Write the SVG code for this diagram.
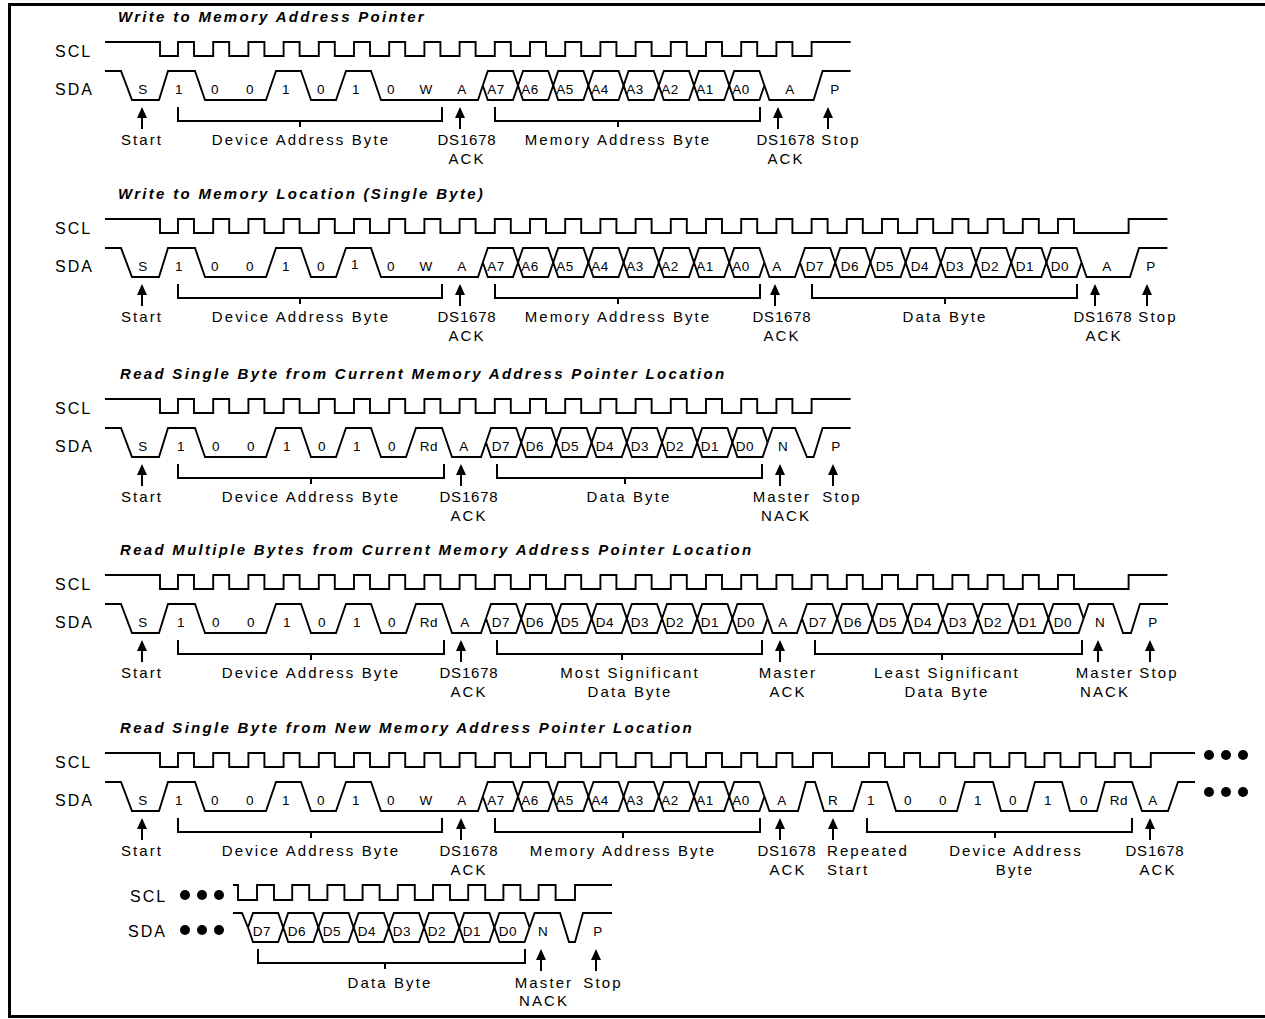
<svg xmlns="http://www.w3.org/2000/svg" xmlns:xlink="http://www.w3.org/1999/xlink" width="1265" height="1019" viewBox="0 0 1265 1019">
<style>
.sig{fill:none;stroke:#000;stroke-width:1.9;stroke-linejoin:miter}
.br{fill:none;stroke:#000;stroke-width:2}
text{font-family:"Liberation Sans",Arial,Helvetica,sans-serif;fill:#000}
.ttl{font-size:15px;font-weight:bold;font-style:italic;letter-spacing:2.3px}
.lbl{font-size:16px;letter-spacing:2px}
.bit{font-size:13.5px;letter-spacing:0.5px;text-anchor:middle}
.cap{font-size:15px;letter-spacing:2.1px;text-anchor:middle}
.capl{font-size:15px;letter-spacing:2.1px}
.ds{font-size:15px;letter-spacing:0.8px;text-anchor:middle}
</style>
<defs>
<g id="hex8">
<path class="sig" d="M0,85.5 l5,-14.5 h25.2 l5,14.5 l5,-14.5 h25.2 l5,14.5 l5,-14.5 h25.2 l5,14.5 l5,-14.5 h25.2 l5,14.5 l5,-14.5 h25.2 l5,14.5 l5,-14.5 h25.2 l5,14.5 l5,-14.5 h25.2 l5,14.5 l5,-14.5 h25.2 l5,14.5"/>
<path class="sig" d="M0,85.5 l5,14.5 h25.2 l5,-14.5 l5,14.5 h25.2 l5,-14.5 l5,14.5 h25.2 l5,-14.5 l5,14.5 h25.2 l5,-14.5 l5,14.5 h25.2 l5,-14.5 l5,14.5 h25.2 l5,-14.5 l5,14.5 h25.2 l5,-14.5 l5,14.5 h25.2 l5,-14.5"/>
</g>
<g id="arr">
<polygon points="0,107 -5,118 5,118" fill="#000"/>
<line x1="0" y1="116" x2="0" y2="129" stroke="#000" stroke-width="2"/>
</g>
</defs>
<rect width="1265" height="1019" fill="#fff"/>
<path d="M1268,4.5 H9.5 V1016.5 H1268" fill="none" stroke="#000" stroke-width="3"/>

<!-- Section 1 -->
<g id="sec1">
<text class="ttl" x="118" y="22">Write to Memory Address Pointer</text>
<text class="lbl" x="55" y="57">SCL</text>
<text class="lbl" x="55" y="95">SDA</text>
<g id="sec1-signals">
<path class="sig" d="M105,42 H160 V56 H178 v-14 h16 v14 h19.2 v-14 h16 v14 h19.2 v-14 h16 v14 h19.2 v-14 h16 v14 h19.2 v-14 h16 v14 h19.2 v-14 h16 v14 h19.2 v-14 h16 v14 h19.2 v-14 h16 v14 h19.2 v-14 h16 v14 h19.2 v-14 h16 v14 h19.2 v-14 h16 v14 h19.2 v-14 h16 v14 h19.2 v-14 h16 v14 h19.2 v-14 h16 v14 h19.2 v-14 h16 v14 h19.2 v-14 h16 v14 h19.2 v-14 h16 v14 h19.2 v-14 h16 v14 H811.6 V42 H850.6"/>
<path class="sig" d="M105,71 H121 L132,100 H159 L168,71 H195 L205,100 H266 L276,71 H301 L311,100 H336 L346,71 H371 L381,100 H478 L482.8,85.5"/>
<use href="#hex8" x="482.8"/>
<path class="sig" d="M764.4,85.5 L769.4,100 H813.6 L822.6,71 H850.6"/>
</g>
<g id="sec1-bits">
<text class="bit" x="143" y="94">S</text><text class="bit" x="179" y="94">1</text><text class="bit" x="215" y="94">0</text><text class="bit" x="250" y="94">0</text><text class="bit" x="286" y="94">1</text><text class="bit" x="321" y="94">0</text><text class="bit" x="356" y="94">1</text><text class="bit" x="391" y="94">0</text><text class="bit" x="426" y="94">W</text><text class="bit" x="462" y="94">A</text>
<text class="bit" x="496" y="94">A7</text><text class="bit" x="530" y="94">A6</text><text class="bit" x="565" y="94">A5</text><text class="bit" x="600" y="94">A4</text><text class="bit" x="635" y="94">A3</text><text class="bit" x="670" y="94">A2</text><text class="bit" x="705" y="94">A1</text><text class="bit" x="741" y="94">A0</text>
<text class="bit" x="790" y="94">A</text><text class="bit" x="835" y="94">P</text>
</g>
<g id="sec1-connectors">
<use href="#arr" x="142"/><use href="#arr" x="460"/><use href="#arr" x="778"/><use href="#arr" x="828"/>
<path class="br" d="M178,107 V121 H442 V107 M300,121 V127 M495,107 V121 H760 V107 M618,121 V127"/>
</g>
<text class="cap" x="142" y="145">Start</text>
<text class="cap" x="301" y="145">Device Address Byte</text>
<text class="ds" x="467" y="145">DS1678</text><text class="cap" x="467" y="164">ACK</text>
<text class="cap" x="618" y="145">Memory Address Byte</text>
<text class="ds" x="786" y="145">DS1678</text><text class="cap" x="786" y="164">ACK</text>
<text class="cap" x="841" y="145">Stop</text>
</g>

<!-- Section 2 -->
<g id="sec2" transform="translate(0,177)">
<text class="ttl" x="118" y="22">Write to Memory Location (Single Byte)</text>
<text class="lbl" x="55" y="57">SCL</text>
<text class="lbl" x="55" y="95">SDA</text>
<g id="sec2-signals">
<path class="sig" d="M105,42 H160 V56 H178 v-14 h16 v14 h19.2 v-14 h16 v14 h19.2 v-14 h16 v14 h19.2 v-14 h16 v14 h19.2 v-14 h16 v14 h19.2 v-14 h16 v14 h19.2 v-14 h16 v14 h19.2 v-14 h16 v14 h19.2 v-14 h16 v14 h19.2 v-14 h16 v14 h19.2 v-14 h16 v14 h19.2 v-14 h16 v14 h19.2 v-14 h16 v14 h19.2 v-14 h16 v14 h19.2 v-14 h16 v14 h19.2 v-14 h16 v14 h19.2 v-14 h16 v14 h19.2 v-14 h16 v14 h19.2 v-14 h16 v14 h19.2 v-14 h16 v14 h19.2 v-14 h16 v14 h19.2 v-14 h16 v14 h19.2 v-14 h16 v14 h19.2 v-14 h16 v14 h19.2 v-14 h16 v14 h19.2 v-14 h16 v14 H1128.6 V42 H1167.4"/>
<path class="sig" d="M105,71 H121 L132,100 H159 L168,71 H195 L205,100 H266 L276,71 H301 L311,100 H336 L346,71 H371 L381,100 H478 L482.8,85.5"/>
<use href="#hex8" x="482.8"/>
<path class="sig" d="M764.4,85.5 L769.4,100 H795 L800,85.5"/>
<use href="#hex8" x="800"/>
<path class="sig" d="M1081.6,85.5 L1086.6,100 H1130 L1139,71 H1167.4"/>
</g>
<g id="sec2-bits">
<text class="bit" x="143" y="94">S</text><text class="bit" x="179" y="94">1</text><text class="bit" x="215" y="94">0</text><text class="bit" x="250" y="94">0</text><text class="bit" x="286" y="94">1</text><text class="bit" x="321" y="94">0</text><text class="bit" x="355" y="92">1</text><text class="bit" x="391" y="94">0</text><text class="bit" x="426" y="94">W</text><text class="bit" x="462" y="94">A</text>
<text class="bit" x="496" y="94">A7</text><text class="bit" x="530" y="94">A6</text><text class="bit" x="565" y="94">A5</text><text class="bit" x="600" y="94">A4</text><text class="bit" x="635" y="94">A3</text><text class="bit" x="670" y="94">A2</text><text class="bit" x="705" y="94">A1</text><text class="bit" x="741" y="94">A0</text>
<text class="bit" x="777" y="94">A</text>
<text class="bit" x="815" y="94">D7</text><text class="bit" x="850" y="94">D6</text><text class="bit" x="885" y="94">D5</text><text class="bit" x="920" y="94">D4</text><text class="bit" x="955" y="94">D3</text><text class="bit" x="990" y="94">D2</text><text class="bit" x="1025" y="94">D1</text><text class="bit" x="1060" y="94">D0</text>
<text class="bit" x="1107" y="94">A</text><text class="bit" x="1151" y="94">P</text>
</g>
<g id="sec2-connectors">
<use href="#arr" x="142"/><use href="#arr" x="460"/><use href="#arr" x="775"/><use href="#arr" x="1095"/><use href="#arr" x="1147"/>
<path class="br" d="M178,107 V121 H442 V107 M300,121 V127 M495,107 V121 H760 V107 M618,121 V127 M812,107 V121 H1077 V107 M945,121 V127"/>
</g>
<text class="cap" x="142" y="145">Start</text>
<text class="cap" x="301" y="145">Device Address Byte</text>
<text class="ds" x="467" y="145">DS1678</text><text class="cap" x="467" y="164">ACK</text>
<text class="cap" x="618" y="145">Memory Address Byte</text>
<text class="ds" x="782" y="145">DS1678</text><text class="cap" x="782" y="164">ACK</text>
<text class="cap" x="945" y="145">Data Byte</text>
<text class="ds" x="1103" y="145">DS1678</text><text class="cap" x="1104" y="164">ACK</text>
<text class="cap" x="1158" y="145">Stop</text>
</g>

<!-- Section 3 -->
<g id="sec3" transform="translate(0,357)">
<text class="ttl" x="120" y="22">Read Single Byte from Current Memory Address Pointer Location</text>
<text class="lbl" x="55" y="57">SCL</text>
<text class="lbl" x="55" y="95">SDA</text>
<g id="sec3-signals">
<path class="sig" d="M105,42 H160 V56 H178 v-14 h16 v14 h19.2 v-14 h16 v14 h19.2 v-14 h16 v14 h19.2 v-14 h16 v14 h19.2 v-14 h16 v14 h19.2 v-14 h16 v14 h19.2 v-14 h16 v14 h19.2 v-14 h16 v14 h19.2 v-14 h16 v14 h19.2 v-14 h16 v14 h19.2 v-14 h16 v14 h19.2 v-14 h16 v14 h19.2 v-14 h16 v14 h19.2 v-14 h16 v14 h19.2 v-14 h16 v14 h19.2 v-14 h16 v14 h19.2 v-14 h16 v14 h19.2 v-14 h16 v14 H811.6 V42 H850.6"/>
<path class="sig" d="M105,71 H121 L132,100 H159 L168,71 H195 L205,100 H266 L276,71 H301 L311,100 H336 L346,71 H371 L381,100 H406 L416,71 H442 L452,100 H481 L486,85.5"/>
<use href="#hex8" x="486"/>
<path class="sig" d="M767.6,85.5 L772.6,71 H795 L807,100 H813.6 L822.6,71 H850.6"/>
</g>
<g id="sec3-bits">
<text class="bit" x="143" y="94">S</text><text class="bit" x="181" y="94">1</text><text class="bit" x="216" y="94">0</text><text class="bit" x="251" y="94">0</text><text class="bit" x="287" y="94">1</text><text class="bit" x="322" y="94">0</text><text class="bit" x="357" y="94">1</text><text class="bit" x="392" y="94">0</text><text class="bit" x="429" y="94">Rd</text><text class="bit" x="464" y="94">A</text>
<text class="bit" x="501" y="94">D7</text><text class="bit" x="535" y="94">D6</text><text class="bit" x="570" y="94">D5</text><text class="bit" x="605" y="94">D4</text><text class="bit" x="640" y="94">D3</text><text class="bit" x="675" y="94">D2</text><text class="bit" x="710" y="94">D1</text><text class="bit" x="745" y="94">D0</text>
<text class="bit" x="783" y="94">N</text><text class="bit" x="836" y="94">P</text>
</g>
<g id="sec3-connectors">
<use href="#arr" x="142"/><use href="#arr" x="461"/><use href="#arr" x="780"/><use href="#arr" x="833"/>
<path class="br" d="M178,107 V121 H444 V107 M311,121 V127 M497,107 V121 H762 V107 M625,121 V127"/>
</g>
<text class="cap" x="142" y="145">Start</text>
<text class="cap" x="311" y="145">Device Address Byte</text>
<text class="ds" x="469" y="145">DS1678</text><text class="cap" x="469" y="164">ACK</text>
<text class="cap" x="629" y="145">Data Byte</text>
<text class="cap" x="782" y="145">Master</text><text class="cap" x="786" y="164">NACK</text>
<text class="cap" x="842" y="145">Stop</text>
</g>

<!-- Section 4 -->
<g id="sec4" transform="translate(0,533)">
<text class="ttl" x="120" y="22">Read Multiple Bytes from Current Memory Address Pointer Location</text>
<text class="lbl" x="55" y="57">SCL</text>
<text class="lbl" x="55" y="95">SDA</text>
<g id="sec4-signals">
<path class="sig" d="M105,42 H160 V56 H178 v-14 h16 v14 h19.2 v-14 h16 v14 h19.2 v-14 h16 v14 h19.2 v-14 h16 v14 h19.2 v-14 h16 v14 h19.2 v-14 h16 v14 h19.2 v-14 h16 v14 h19.2 v-14 h16 v14 h19.2 v-14 h16 v14 h19.2 v-14 h16 v14 h19.2 v-14 h16 v14 h19.2 v-14 h16 v14 h19.2 v-14 h16 v14 h19.2 v-14 h16 v14 h19.2 v-14 h16 v14 h19.2 v-14 h16 v14 h19.2 v-14 h16 v14 h19.2 v-14 h16 v14 h19.2 v-14 h16 v14 h19.2 v-14 h16 v14 h19.2 v-14 h16 v14 h19.2 v-14 h16 v14 h19.2 v-14 h16 v14 h19.2 v-14 h16 v14 h19.2 v-14 h16 v14 h19.2 v-14 h16 v14 H1128.6 V42 H1167.4"/>
<path class="sig" d="M105,71 H121 L132,100 H159 L168,71 H195 L205,100 H266 L276,71 H301 L311,100 H336 L346,71 H371 L381,100 H406 L416,71 H442 L452,100 H481 L486,85.5"/>
<use href="#hex8" x="486"/>
<path class="sig" d="M767.6,85.5 L772.6,100 H797 L802,85.5"/>
<use href="#hex8" x="802"/>
<path class="sig" d="M1083.6,85.5 L1088.6,71 H1113 L1123,100 H1131 L1140,71 H1168"/>
</g>
<g id="sec4-bits">
<text class="bit" x="143" y="94">S</text><text class="bit" x="181" y="94">1</text><text class="bit" x="216" y="94">0</text><text class="bit" x="251" y="94">0</text><text class="bit" x="287" y="94">1</text><text class="bit" x="322" y="94">0</text><text class="bit" x="357" y="94">1</text><text class="bit" x="392" y="94">0</text><text class="bit" x="429" y="94">Rd</text><text class="bit" x="465" y="94">A</text>
<text class="bit" x="501" y="94">D7</text><text class="bit" x="535" y="94">D6</text><text class="bit" x="570" y="94">D5</text><text class="bit" x="605" y="94">D4</text><text class="bit" x="640" y="94">D3</text><text class="bit" x="675" y="94">D2</text><text class="bit" x="710" y="94">D1</text><text class="bit" x="746" y="94">D0</text>
<text class="bit" x="783" y="94">A</text>
<text class="bit" x="818" y="94">D7</text><text class="bit" x="853" y="94">D6</text><text class="bit" x="888" y="94">D5</text><text class="bit" x="923" y="94">D4</text><text class="bit" x="958" y="94">D3</text><text class="bit" x="993" y="94">D2</text><text class="bit" x="1028" y="94">D1</text><text class="bit" x="1063" y="94">D0</text>
<text class="bit" x="1100" y="94">N</text><text class="bit" x="1153" y="94">P</text>
</g>
<g id="sec4-connectors">
<use href="#arr" x="142"/><use href="#arr" x="461"/><use href="#arr" x="780"/><use href="#arr" x="1098"/><use href="#arr" x="1150"/>
<path class="br" d="M178,107 V121 H444 V107 M311,121 V127 M497,107 V121 H762 V107 M622,121 V127 M815,107 V121 H1082 V107 M942,121 V127"/>
</g>
<text class="cap" x="142" y="145">Start</text>
<text class="cap" x="311" y="145">Device Address Byte</text>
<text class="ds" x="469" y="145">DS1678</text><text class="cap" x="469" y="164">ACK</text>
<text class="cap" x="630" y="145">Most Significant</text><text class="cap" x="630" y="164">Data Byte</text>
<text class="cap" x="788" y="145">Master</text><text class="cap" x="788" y="164">ACK</text>
<text class="cap" x="947" y="145">Least Significant</text><text class="cap" x="947" y="164">Data Byte</text>
<text class="cap" x="1105" y="145">Master</text><text class="cap" x="1105" y="164">NACK</text>
<text class="cap" x="1159" y="145">Stop</text>
</g>

<!-- Section 5 -->
<g id="sec5" transform="translate(0,711)">
<text class="ttl" x="120" y="22">Read Single Byte from New Memory Address Pointer Location</text>
<text class="lbl" x="55" y="57">SCL</text>
<text class="lbl" x="55" y="95">SDA</text>
<g id="sec5-signals">
<path class="sig" d="M105,42 H160 V56 H178 v-14 h16 v14 h19.2 v-14 h16 v14 h19.2 v-14 h16 v14 h19.2 v-14 h16 v14 h19.2 v-14 h16 v14 h19.2 v-14 h16 v14 h19.2 v-14 h16 v14 h19.2 v-14 h16 v14 h19.2 v-14 h16 v14 h19.2 v-14 h16 v14 h19.2 v-14 h16 v14 h19.2 v-14 h16 v14 h19.2 v-14 h16 v14 h19.2 v-14 h16 v14 h19.2 v-14 h16 v14 h19.2 v-14 h16 v14 h19.2 v-14 h16 v14 h19.2 v-14 h16 v14 H813 V42 H832 V56 H869 v-14 h16 v14 h19.1 v-14 h16 v14 h19.1 v-14 h16 v14 h19.1 v-14 h16 v14 h19.1 v-14 h16 v14 h19.1 v-14 h16 v14 h19.1 v-14 h16 v14 h19.1 v-14 h16 v14 H1150.8 V42 H1195"/>
<path class="sig" d="M105,71 H121 L132,100 H159 L168,71 H195 L205,100 H266 L276,71 H301 L311,100 H336 L346,71 H371 L381,100 H478 L482.8,85.5"/>
<use href="#hex8" x="482.8"/>
<path class="sig" d="M764.4,85.5 L769.4,100 H798 L806,71 H815 L824,100 H853 L862,71 H887 L896,100 H957 L965,71 H993 L1001,100 H1027 L1035,71 H1062 L1070,100 H1097 L1105,71 H1132 L1142,100 H1168 L1178,71 H1195"/>
</g>
<g id="sec5-bits">
<text class="bit" x="143" y="94">S</text><text class="bit" x="179" y="94">1</text><text class="bit" x="215" y="94">0</text><text class="bit" x="250" y="94">0</text><text class="bit" x="286" y="94">1</text><text class="bit" x="321" y="94">0</text><text class="bit" x="356" y="94">1</text><text class="bit" x="391" y="94">0</text><text class="bit" x="426" y="94">W</text><text class="bit" x="462" y="94">A</text>
<text class="bit" x="496" y="94">A7</text><text class="bit" x="530" y="94">A6</text><text class="bit" x="565" y="94">A5</text><text class="bit" x="600" y="94">A4</text><text class="bit" x="635" y="94">A3</text><text class="bit" x="670" y="94">A2</text><text class="bit" x="705" y="94">A1</text><text class="bit" x="741" y="94">A0</text>
<text class="bit" x="782" y="94">A</text><text class="bit" x="833" y="94">R</text>
<text class="bit" x="871" y="94">1</text><text class="bit" x="908" y="94">0</text><text class="bit" x="943" y="94">0</text><text class="bit" x="978" y="94">1</text><text class="bit" x="1013" y="94">0</text><text class="bit" x="1048" y="94">1</text><text class="bit" x="1084" y="94">0</text><text class="bit" x="1119" y="94">Rd</text><text class="bit" x="1153" y="94">A</text>
</g>
<g id="sec5-dots">
<circle cx="1209" cy="44" r="5"/><circle cx="1226" cy="44" r="5"/><circle cx="1243" cy="44" r="5"/>
<circle cx="1209" cy="81" r="5"/><circle cx="1226" cy="81" r="5"/><circle cx="1243" cy="81" r="5"/>
</g>
<g id="sec5-connectors">
<use href="#arr" x="142"/><use href="#arr" x="461"/><use href="#arr" x="780"/><use href="#arr" x="833"/><use href="#arr" x="1150"/>
<path class="br" d="M178,107 V121 H442 V107 M311,121 V127 M495,107 V121 H760 V107 M623,121 V127 M867,107 V121 H1132 V107 M995,121 V127"/>
</g>
<text class="cap" x="142" y="145">Start</text>
<text class="cap" x="311" y="145">Device Address Byte</text>
<text class="ds" x="469" y="145">DS1678</text><text class="cap" x="469" y="164">ACK</text>
<text class="cap" x="623" y="145">Memory Address Byte</text>
<text class="ds" x="787" y="145">DS1678</text><text class="cap" x="788" y="164">ACK</text>
<text class="capl" x="827" y="145">Repeated</text><text class="capl" x="827" y="164">Start</text>
<text class="cap" x="1016" y="145">Device Address</text><text class="cap" x="1015" y="164">Byte</text>
<text class="ds" x="1155" y="145">DS1678</text><text class="cap" x="1158" y="164">ACK</text>
</g>

<!-- Section 6 (continuation) -->
<g id="sec6">
<text class="lbl" x="130" y="902">SCL</text>
<text class="lbl" x="128" y="937">SDA</text>
<g id="sec6-dots">
<circle cx="185" cy="895" r="5"/><circle cx="202" cy="895" r="5"/><circle cx="219" cy="895" r="5"/>
<circle cx="185" cy="930" r="5"/><circle cx="202" cy="930" r="5"/><circle cx="219" cy="930" r="5"/>
</g>
<g id="sec6-signals">
<path class="sig" d="M233,885 H238 V900 H257 v-15 h17 v15 h18.2 v-15 h17 v15 h18.2 v-15 h17 v15 h18.2 v-15 h17 v15 h18.2 v-15 h17 v15 h18.2 v-15 h17 v15 h18.2 v-15 h17 v15 h18.2 v-15 h17 v15 h18.2 v-15 h17 v15 H575 V885 H612"/>
<path class="sig" d="M233,913 H242 L248,927.5"/>
<use href="#hex8" x="248" y="842"/>
<path class="sig" d="M529.6,927.5 L534.6,913 H560 L569,942 H575 L583,913 H612"/>
</g>
<g id="sec6-bits">
<text class="bit" x="262" y="936">D7</text><text class="bit" x="297" y="936">D6</text><text class="bit" x="332" y="936">D5</text><text class="bit" x="367" y="936">D4</text><text class="bit" x="402" y="936">D3</text><text class="bit" x="437" y="936">D2</text><text class="bit" x="472" y="936">D1</text><text class="bit" x="508" y="936">D0</text>
<text class="bit" x="543" y="936">N</text><text class="bit" x="598" y="936">P</text>
</g>
<g id="sec6-connectors" transform="translate(0,842)">
<use href="#arr" x="541"/><use href="#arr" x="596"/>
<path class="br" d="M258,107 V121 H525 V107 M385,121 V127"/>
</g>
<text class="cap" x="390" y="988">Data Byte</text>
<text class="cap" x="544" y="988">Master</text><text class="cap" x="544" y="1006">NACK</text>
<text class="cap" x="603" y="988">Stop</text>
</g>
</svg>
